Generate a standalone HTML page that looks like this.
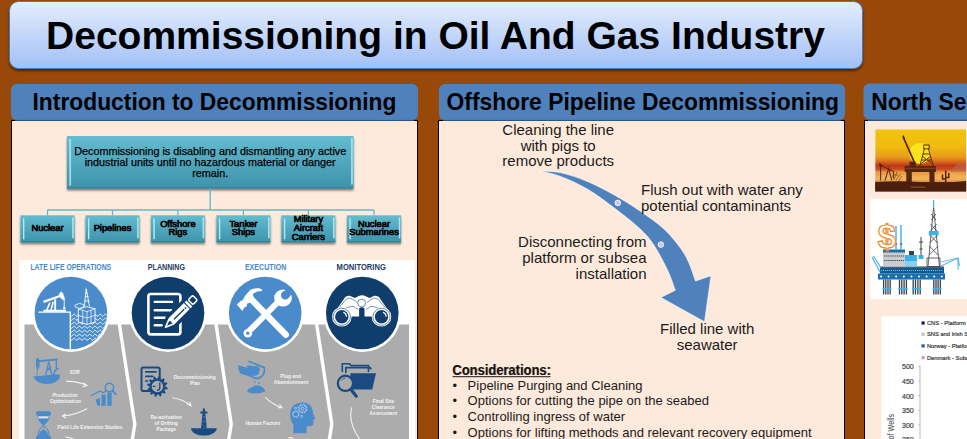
<!DOCTYPE html>
<html><head><meta charset="utf-8"><style>
html,body{margin:0;padding:0;width:967px;height:439px;overflow:hidden;background:#984807}
svg{display:block;font-family:"Liberation Sans", sans-serif}
</style></head><body>
<svg width="967" height="439" viewBox="0 0 967 439">
<defs>
<linearGradient id="gTitle" x1="0" y1="0" x2="0" y2="1"><stop offset="0" stop-color="#e4edfd"/><stop offset="1" stop-color="#a2c0f6"/></linearGradient>
<linearGradient id="gTeal" x1="0" y1="0" x2="0" y2="1"><stop offset="0" stop-color="#64bcd1"/><stop offset="1" stop-color="#3d93aa"/></linearGradient>
<linearGradient id="gBevel" x1="0" y1="0" x2="1" y2="0"><stop offset="0" stop-color="#c8f4fb"/><stop offset="1" stop-color="#7fd3e3"/></linearGradient>
<linearGradient id="gSun" x1="0" y1="0" x2="0" y2="1"><stop offset="0" stop-color="#f4c60a"/><stop offset="0.45" stop-color="#eea51a"/><stop offset="0.62" stop-color="#dc6a1e"/><stop offset="0.72" stop-color="#b8341a"/><stop offset="0.8" stop-color="#e0a050"/><stop offset="1" stop-color="#e0a050"/></linearGradient>
<filter id="sh" x="-5%" y="-20%" width="110%" height="150%"><feGaussianBlur in="SourceAlpha" stdDeviation="1.2"/><feOffset dy="1.5"/><feComponentTransfer><feFuncA type="linear" slope="0.5"/></feComponentTransfer><feMerge><feMergeNode/><feMergeNode in="SourceGraphic"/></feMerge></filter>
</defs>
<rect x="0" y="0" width="967" height="439" fill="#984807"/>
<rect x="9.5" y="1.5" width="853" height="67" rx="9" fill="url(#gTitle)" stroke="#4d7cba" stroke-width="1" filter="url(#sh)"/>
<text x="435.5" y="49" font-size="39" font-weight="bold" text-anchor="middle" fill="#000" textLength="779" lengthAdjust="spacingAndGlyphs" >Decommissioning in Oil And Gas Industry</text>
<rect x="11.5" y="120.5" width="406.0" height="400" fill="#fdeadc" stroke="#000" stroke-width="1"/>
<rect x="438.5" y="120.5" width="406.0" height="400" fill="#fdeadc" stroke="#000" stroke-width="1"/>
<rect x="864.5" y="120.5" width="235.5" height="400" fill="#fdeadc" stroke="#000" stroke-width="1"/>
<rect x="11" y="84" width="407" height="36" rx="6" fill="#4f81bd"/>
<rect x="439" y="84" width="406" height="36" rx="6" fill="#4f81bd"/>
<rect x="863.5" y="83.5" width="200" height="36" rx="6" fill="#4f81bd"/>
<rect x="15" y="119.9" width="399" height="1" fill="#30609c"/>
<rect x="443" y="119.9" width="398" height="1" fill="#30609c"/>
<rect x="868" y="119.9" width="99" height="1" fill="#30609c"/>
<text x="214.5" y="109.8" font-size="23.8" font-weight="bold" text-anchor="middle" fill="#000" textLength="364" lengthAdjust="spacingAndGlyphs" >Introduction to Decommissioning</text>
<text x="642.75" y="109.8" font-size="23.8" font-weight="bold" text-anchor="middle" fill="#000" textLength="392.3" lengthAdjust="spacingAndGlyphs" >Offshore Pipeline Decommissioning</text>
<text x="871.3" y="109.8" font-size="23.8" font-weight="bold" text-anchor="start" fill="#000" textLength="310.7" lengthAdjust="spacingAndGlyphs" >North Sea Decommissioning</text>
<rect x="67" y="136" width="286.5" height="52.5" fill="url(#gTeal)" filter="url(#sh)"/>
<rect x="69.5" y="139" width="1.6" height="46.5" fill="url(#gBevel)"/>
<rect x="351.3" y="138" width="1.6" height="46.5" fill="url(#gBevel)"/>
<rect x="67" y="187.5" width="286.5" height="1" fill="#2f7d92"/>
<text x="210.2" y="154.5" font-size="10.8" text-anchor="middle" fill="#000" textLength="272" lengthAdjust="spacingAndGlyphs" stroke="#000" stroke-width="0.25">Decommissioning is disabling and dismantling any active</text>
<text x="210.2" y="165.5" font-size="10.8" text-anchor="middle" fill="#000" textLength="251" lengthAdjust="spacingAndGlyphs" stroke="#000" stroke-width="0.25">industrial units until no hazardous material or danger</text>
<text x="210.2" y="176.5" font-size="10.8" text-anchor="middle" fill="#000" stroke="#000" stroke-width="0.25">remain.</text>
<g stroke="#5fb8cc" stroke-width="1.3" fill="none">
<path d="M210.2 188.5 V210"/>
<path d="M47.3 210 H374"/>
<path d="M47.5 210 V215.3"/>
<path d="M112.5 210 V215.3"/>
<path d="M177.9 210 V215.3"/>
<path d="M243.4 210 V215.3"/>
<path d="M308.4 210 V215.3"/>
<path d="M374 210 V215.3"/>
</g>
<rect x="20.5" y="215.3" width="54" height="27" fill="url(#gTeal)" filter="url(#sh)"/>
<rect x="23.0" y="218.3" width="1.6" height="21" fill="url(#gBevel)"/>
<rect x="72.3" y="217.3" width="1.6" height="21" fill="url(#gBevel)"/>
<rect x="20.5" y="241.3" width="54" height="1" fill="#2f7d92"/>
<text x="47.5" y="230.9" font-size="9.3" text-anchor="middle" fill="#000" stroke="#000" stroke-width="0.7">Nuclear</text>
<rect x="85.5" y="215.3" width="54" height="27" fill="url(#gTeal)" filter="url(#sh)"/>
<rect x="88.0" y="218.3" width="1.6" height="21" fill="url(#gBevel)"/>
<rect x="137.3" y="217.3" width="1.6" height="21" fill="url(#gBevel)"/>
<rect x="85.5" y="241.3" width="54" height="1" fill="#2f7d92"/>
<text x="112.5" y="230.9" font-size="9.3" text-anchor="middle" fill="#000" stroke="#000" stroke-width="0.7">Pipelines</text>
<rect x="150.9" y="215.3" width="54" height="27" fill="url(#gTeal)" filter="url(#sh)"/>
<rect x="153.4" y="218.3" width="1.6" height="21" fill="url(#gBevel)"/>
<rect x="202.70000000000002" y="217.3" width="1.6" height="21" fill="url(#gBevel)"/>
<rect x="150.9" y="241.3" width="54" height="1" fill="#2f7d92"/>
<text x="177.9" y="226.5" font-size="9.3" text-anchor="middle" fill="#000" stroke="#000" stroke-width="0.7">Offshore</text>
<text x="177.9" y="235.3" font-size="9.3" text-anchor="middle" fill="#000" stroke="#000" stroke-width="0.7">Rigs</text>
<rect x="216.4" y="215.3" width="54" height="27" fill="url(#gTeal)" filter="url(#sh)"/>
<rect x="218.9" y="218.3" width="1.6" height="21" fill="url(#gBevel)"/>
<rect x="268.2" y="217.3" width="1.6" height="21" fill="url(#gBevel)"/>
<rect x="216.4" y="241.3" width="54" height="1" fill="#2f7d92"/>
<text x="243.4" y="226.5" font-size="9.3" text-anchor="middle" fill="#000" stroke="#000" stroke-width="0.7">Tanker</text>
<text x="243.4" y="235.3" font-size="9.3" text-anchor="middle" fill="#000" stroke="#000" stroke-width="0.7">Ships</text>
<rect x="281.4" y="215.3" width="54" height="27" fill="url(#gTeal)" filter="url(#sh)"/>
<rect x="283.9" y="218.3" width="1.6" height="21" fill="url(#gBevel)"/>
<rect x="333.2" y="217.3" width="1.6" height="21" fill="url(#gBevel)"/>
<rect x="281.4" y="241.3" width="54" height="1" fill="#2f7d92"/>
<text x="308.4" y="222.1" font-size="9.3" text-anchor="middle" fill="#000" stroke="#000" stroke-width="0.7">Military</text>
<text x="308.4" y="230.9" font-size="9.3" text-anchor="middle" fill="#000" stroke="#000" stroke-width="0.7">Aircraft</text>
<text x="308.4" y="239.7" font-size="9.3" text-anchor="middle" fill="#000" stroke="#000" stroke-width="0.7">Carriers</text>
<rect x="347" y="215.3" width="54" height="27" fill="url(#gTeal)" filter="url(#sh)"/>
<rect x="349.5" y="218.3" width="1.6" height="21" fill="url(#gBevel)"/>
<rect x="398.8" y="217.3" width="1.6" height="21" fill="url(#gBevel)"/>
<rect x="347" y="241.3" width="54" height="1" fill="#2f7d92"/>
<text x="374" y="226.5" font-size="9.3" text-anchor="middle" fill="#000" stroke="#000" stroke-width="0.7">Nuclear</text>
<text x="374" y="235.3" font-size="9.3" text-anchor="middle" fill="#000" stroke="#000" stroke-width="0.7">Submarines</text>
<rect x="19" y="260" width="396" height="180" fill="#ffffff"/>
<rect x="24.5" y="324.5" width="384.5" height="120" fill="#adacad"/>
<path d="M119.0 322 L134.8 424 L126.80000000000001 475" stroke="#ffffff" stroke-width="3.4" fill="none"/>
<path d="M215.7 322 L231.2 424 L223.2 475" stroke="#ffffff" stroke-width="3.4" fill="none"/>
<path d="M316.3 322 L331.8 424 L323.8 475" stroke="#ffffff" stroke-width="3.4" fill="none"/>
<circle cx="70.9" cy="313" r="39" fill="#ffffff"/>
<circle cx="70.9" cy="313" r="36.3" fill="#4a8bcb"/>
<circle cx="168" cy="313" r="39" fill="#ffffff"/>
<circle cx="168" cy="313" r="36.3" fill="#0f3e6d"/>
<circle cx="265.2" cy="313" r="39" fill="#ffffff"/>
<circle cx="265.2" cy="313" r="36.3" fill="#4a8bcb"/>
<circle cx="362.3" cy="313" r="39" fill="#ffffff"/>
<circle cx="362.3" cy="313" r="36.3" fill="#0f3e6d"/>
<clipPath id="c1"><circle cx="70.9" cy="313" r="36.3"/></clipPath>
<text x="70.8" y="270.4" font-size="8.4" font-weight="bold" text-anchor="middle" fill="#4a86c8" textLength="80.7" lengthAdjust="spacingAndGlyphs" >LATE LIFE OPERATIONS</text>
<text x="166.4" y="270.4" font-size="8.4" font-weight="bold" text-anchor="middle" fill="#1f3b63" textLength="37.2" lengthAdjust="spacingAndGlyphs" >PLANNING</text>
<text x="265.6" y="270.4" font-size="8.4" font-weight="bold" text-anchor="middle" fill="#4a86c8" textLength="41.4" lengthAdjust="spacingAndGlyphs" >EXECUTION</text>
<text x="361.2" y="270.4" font-size="8.4" font-weight="bold" text-anchor="middle" fill="#1f3b63" textLength="49.2" lengthAdjust="spacingAndGlyphs" >MONITORING</text>
<g clip-path="url(#c1)" stroke="#ffffff" fill="none" stroke-linecap="round"><path d="M39 312.2 H70.3 V352" stroke-width="1.3"/><path d="M44.3 301.6 L59.3 296.2" stroke-width="2.2"/><path d="M59 295.6 L60 292.6 Q61.5 291.3 62.6 293 L64.6 298.5 L64.2 300.2 L61.8 299 Z" fill="#ffffff" stroke-width="0.5"/><path d="M64.2 300 V308" stroke-width="0.9"/><rect x="63.2" y="307.2" width="2.2" height="2.2" fill="#ffffff" stroke="none"/><path d="M46.6 310.4 L49.9 302.6 M51 310 L53.3 301.8" stroke-width="1.5" stroke-linecap="butt"/><rect x="54.2" y="299.4" width="1.9" height="11" fill="#ffffff" stroke="none"/><rect x="43.5" y="309.8" width="22.5" height="2" fill="#ffffff" stroke="none"/><path d="M86.2 289 L84.4 306 M86.2 289 L89.4 306 M84.9 301 H88.9 M85.4 296.5 H88.2 M85.8 293 H87.2" stroke-width="0.9"/><path d="M70.3 315.20 L71.0 316.02 L71.7 316.29 L72.4 315.82 L73.1 314.94 L73.8 314.23 L74.5 314.17 L75.2 314.81 L75.9 315.71 L76.6 316.27 L77.3 316.11 L78.0 315.33 L78.7 314.47 L79.4 314.10 L80.1 314.47 L80.8 315.33 L81.5 316.11 L82.2 316.27 L82.9 315.71 L83.6 314.81 L84.3 314.17 L85.0 314.23 L85.7 314.94 L86.4 315.82 L87.1 316.29 L87.8 316.02 L88.5 315.20 L89.2 314.38 L89.9 314.11 L90.6 314.58 L91.3 315.46 L92.0 316.17 L92.7 316.23 L93.4 315.59 L94.1 314.69 L94.8 314.13 L95.5 314.29 L96.2 315.07 L96.9 315.93 L97.6 316.30 L98.3 315.93 L99.0 315.07 L99.7 314.29 L100.4 314.13 L101.1 314.69 L101.8 315.59 L102.5 316.23 L103.2 316.17 L103.9 315.46 L104.6 314.58 L105.3 314.11 L106.0 314.38 L106.7 315.20" stroke-width="0.9"/><path d="M70.3 319.20 L71.0 320.02 L71.7 320.29 L72.4 319.82 L73.1 318.94 L73.8 318.23 L74.5 318.17 L75.2 318.81 L75.9 319.71 L76.6 320.27 L77.3 320.11 L78.0 319.33 L78.7 318.47 L79.4 318.10 L80.1 318.47 L80.8 319.33 L81.5 320.11 L82.2 320.27 L82.9 319.71 L83.6 318.81 L84.3 318.17 L85.0 318.23 L85.7 318.94 L86.4 319.82 L87.1 320.29 L87.8 320.02 L88.5 319.20 L89.2 318.38 L89.9 318.11 L90.6 318.58 L91.3 319.46 L92.0 320.17 L92.7 320.23 L93.4 319.59 L94.1 318.69 L94.8 318.13 L95.5 318.29 L96.2 319.07 L96.9 319.93 L97.6 320.30 L98.3 319.93 L99.0 319.07 L99.7 318.29 L100.4 318.13 L101.1 318.69 L101.8 319.59 L102.5 320.23 L103.2 320.17 L103.9 319.46 L104.6 318.58 L105.3 318.11 L106.0 318.38 L106.7 319.20" stroke-width="0.9"/><path d="M70.3 323.20 L71.0 324.02 L71.7 324.29 L72.4 323.82 L73.1 322.94 L73.8 322.23 L74.5 322.17 L75.2 322.81 L75.9 323.71 L76.6 324.27 L77.3 324.11 L78.0 323.33 L78.7 322.47 L79.4 322.10 L80.1 322.47 L80.8 323.33 L81.5 324.11 L82.2 324.27 L82.9 323.71 L83.6 322.81 L84.3 322.17 L85.0 322.23 L85.7 322.94 L86.4 323.82 L87.1 324.29 L87.8 324.02 L88.5 323.20 L89.2 322.38 L89.9 322.11 L90.6 322.58 L91.3 323.46 L92.0 324.17 L92.7 324.23 L93.4 323.59 L94.1 322.69 L94.8 322.13 L95.5 322.29 L96.2 323.07 L96.9 323.93 L97.6 324.30 L98.3 323.93 L99.0 323.07 L99.7 322.29 L100.4 322.13 L101.1 322.69 L101.8 323.59 L102.5 324.23 L103.2 324.17 L103.9 323.46 L104.6 322.58 L105.3 322.11 L106.0 322.38 L106.7 323.20" stroke-width="0.9"/><path d="M70.3 327.20 L71.0 328.02 L71.7 328.29 L72.4 327.82 L73.1 326.94 L73.8 326.23 L74.5 326.17 L75.2 326.81 L75.9 327.71 L76.6 328.27 L77.3 328.11 L78.0 327.33 L78.7 326.47 L79.4 326.10 L80.1 326.47 L80.8 327.33 L81.5 328.11 L82.2 328.27 L82.9 327.71 L83.6 326.81 L84.3 326.17 L85.0 326.23 L85.7 326.94 L86.4 327.82 L87.1 328.29 L87.8 328.02 L88.5 327.20 L89.2 326.38 L89.9 326.11 L90.6 326.58 L91.3 327.46 L92.0 328.17 L92.7 328.23 L93.4 327.59 L94.1 326.69 L94.8 326.13 L95.5 326.29 L96.2 327.07 L96.9 327.93 L97.6 328.30 L98.3 327.93 L99.0 327.07 L99.7 326.29 L100.4 326.13 L101.1 326.69 L101.8 327.59 L102.5 328.23 L103.2 328.17 L103.9 327.46 L104.6 326.58 L105.3 326.11 L106.0 326.38 L106.7 327.20" stroke-width="0.9"/><path d="M70.3 331.20 L71.0 332.02 L71.7 332.29 L72.4 331.82 L73.1 330.94 L73.8 330.23 L74.5 330.17 L75.2 330.81 L75.9 331.71 L76.6 332.27 L77.3 332.11 L78.0 331.33 L78.7 330.47 L79.4 330.10 L80.1 330.47 L80.8 331.33 L81.5 332.11 L82.2 332.27 L82.9 331.71 L83.6 330.81 L84.3 330.17 L85.0 330.23 L85.7 330.94 L86.4 331.82 L87.1 332.29 L87.8 332.02 L88.5 331.20 L89.2 330.38 L89.9 330.11 L90.6 330.58 L91.3 331.46 L92.0 332.17 L92.7 332.23 L93.4 331.59 L94.1 330.69 L94.8 330.13 L95.5 330.29 L96.2 331.07 L96.9 331.93 L97.6 332.30 L98.3 331.93 L99.0 331.07 L99.7 330.29 L100.4 330.13 L101.1 330.69 L101.8 331.59 L102.5 332.23 L103.2 332.17 L103.9 331.46 L104.6 330.58 L105.3 330.11 L106.0 330.38 L106.7 331.20" stroke-width="0.9"/><path d="M70.3 335.20 L71.0 336.02 L71.7 336.29 L72.4 335.82 L73.1 334.94 L73.8 334.23 L74.5 334.17 L75.2 334.81 L75.9 335.71 L76.6 336.27 L77.3 336.11 L78.0 335.33 L78.7 334.47 L79.4 334.10 L80.1 334.47 L80.8 335.33 L81.5 336.11 L82.2 336.27 L82.9 335.71 L83.6 334.81 L84.3 334.17 L85.0 334.23 L85.7 334.94 L86.4 335.82 L87.1 336.29 L87.8 336.02 L88.5 335.20 L89.2 334.38 L89.9 334.11 L90.6 334.58 L91.3 335.46 L92.0 336.17 L92.7 336.23 L93.4 335.59 L94.1 334.69 L94.8 334.13 L95.5 334.29 L96.2 335.07 L96.9 335.93 L97.6 336.30 L98.3 335.93 L99.0 335.07 L99.7 334.29 L100.4 334.13 L101.1 334.69 L101.8 335.59 L102.5 336.23 L103.2 336.17 L103.9 335.46 L104.6 334.58 L105.3 334.11 L106.0 334.38 L106.7 335.20" stroke-width="0.9"/><path d="M70.3 339.20 L71.0 340.02 L71.7 340.29 L72.4 339.82 L73.1 338.94 L73.8 338.23 L74.5 338.17 L75.2 338.81 L75.9 339.71 L76.6 340.27 L77.3 340.11 L78.0 339.33 L78.7 338.47 L79.4 338.10 L80.1 338.47 L80.8 339.33 L81.5 340.11 L82.2 340.27 L82.9 339.71 L83.6 338.81 L84.3 338.17 L85.0 338.23 L85.7 338.94 L86.4 339.82 L87.1 340.29 L87.8 340.02 L88.5 339.20 L89.2 338.38 L89.9 338.11 L90.6 338.58 L91.3 339.46 L92.0 340.17 L92.7 340.23 L93.4 339.59 L94.1 338.69 L94.8 338.13 L95.5 338.29 L96.2 339.07 L96.9 339.93 L97.6 340.30 L98.3 339.93 L99.0 339.07 L99.7 338.29 L100.4 338.13 L101.1 338.69 L101.8 339.59 L102.5 340.23 L103.2 340.17 L103.9 339.46 L104.6 338.58 L105.3 338.11 L106.0 338.38 L106.7 339.20" stroke-width="0.9"/><path d="M78.6 309.2 L86.6 306.6 L95 308.8 L95 322.2 L87 324.4 L78.6 322 Z" fill="#4a8bcb" stroke-width="0.9" stroke-linejoin="round"/><path d="M78.6 309.2 L87 311.6 L95 308.8 M87 311.6 V324.4 M82.8 310.4 V323.2 M91 310 V323.3 M78.6 315.5 L87 318 L95 315.4" stroke-width="0.7"/><path d="M75.4 305 L79.5 303.4 L83.6 304.6 L83.6 306.8 L79.5 308.4 L75.4 307 Z" fill="#4a8bcb" stroke-width="0.8" stroke-linejoin="round"/></g>
<g stroke="#ffffff" fill="none" stroke-linecap="round" stroke-linejoin="round"><rect x="148.4" y="294" width="32" height="40.4" rx="2.4" stroke-width="2.6"/><path d="M154.8 301.9 H172" stroke-width="2.4"/><path d="M154.8 310.3 H171" stroke-width="2.4"/><path d="M154.8 317.8 H166.5" stroke-width="2.4"/><path d="M154.8 325.2 H161.5" stroke-width="2.4"/><g transform="translate(165.2,327.6) rotate(-45)"><path d="M-1.8 0 L8.5 -6.2 H44 V6.2 H8.5 Z" fill="#0f3e6d" stroke="#0f3e6d" stroke-width="2.6"/><path d="M0.6 0 L9 -3.4 V3.4 Z" fill="#0f3e6d" stroke-width="1.6"/><rect x="9" y="-4.2" width="21.5" height="8.4" fill="#ffffff" stroke="none"/><path d="M12.5 0.4 H26" stroke="#0f3e6d" stroke-width="1.3"/><circle cx="28.3" cy="0.4" r="0.9" fill="#0f3e6d" stroke="none"/><rect x="31.6" y="-4.2" width="2.6" height="8.4" fill="#ffffff" stroke="none"/><rect x="35.8" y="-3.4" width="6.4" height="6.8" rx="1.6" fill="#0f3e6d" stroke-width="1.6"/></g></g>
<clipPath id="c3"><circle cx="265.2" cy="313" r="36.3"/></clipPath>
<g fill="#ffffff" stroke="none" clip-path="url(#c3)"><path d="M251.5 299.5 L285.8 334.8" stroke="#ffffff" stroke-width="6.4" stroke-linecap="round"/><path d="M236.8 304.5 L240.9 300.8 L242.3 300.4 L244 298 L244.6 296.6 L247.4 292.9 L250.5 289.8 Q254.6 287.9 259.4 288.3 L262.3 289.8 L261.6 290.9 Q256 290.9 252.6 294.5 L254.8 299.5 L249.1 303 L247 303.8 L246.7 306.6 L244.3 307.6 L242.3 311 Z"/><path d="M248 332.2 L279.5 300.5" stroke="#ffffff" stroke-width="6" stroke-linecap="round"/><circle cx="247.8" cy="333.2" r="4.3"/><circle cx="247.8" cy="333.2" r="1.6" fill="#4a8bcb"/><ellipse cx="283" cy="298" rx="8.9" ry="8.6"/><g transform="translate(285.3,295.3) rotate(-42)"><rect x="0" y="-3.7" width="11" height="7.4" fill="#4a8bcb"/><circle cx="0" cy="0" r="4.3" fill="#4a8bcb"/></g></g>
<g stroke="none" fill="#ffffff"><path d="M335.2 311.5 L345.3 297 Q347.8 295.5 350.4 295.9 L354.8 298 L358.4 296.2 Q362.1 294.3 365.8 296.2 L369.4 298 L373.8 295.9 Q376.4 295.5 378.9 297 L389 311.5 L384.5 316.5 H364.5 V308.6 Q361.8 306 359.1 308.6 V316.5 H339.8 Z"/><path d="M337.5 309.5 L346.5 298.8 Q349.5 297.2 353 299.4 L357.3 302.5 M386.7 309.5 L377.7 298.8 Q374.7 297.2 371.2 299.4 L366.9 302.5 M341 312 Q347 306 353.5 306.5 L358 309.5 M383.2 312 Q377.2 306 370.7 306.5 L366.2 309.5" stroke="#0f3e6d" stroke-width="0.55" fill="none"/><circle cx="361.6" cy="303" r="3.9" fill="#ffffff" stroke="#0f3e6d" stroke-width="0.6"/><circle cx="341.8" cy="316.8" r="9.8" fill="#ffffff"/><circle cx="341.8" cy="316.8" r="8.6" fill="none" stroke="#0f3e6d" stroke-width="0.6"/><circle cx="341.8" cy="316.8" r="6.7" fill="#0f3e6d"/><path d="M343.3 312.4 A4.5 4.5 0 0 1 346.40000000000003 316.8" fill="none" stroke="#ffffff" stroke-width="1.2"/><circle cx="381.5" cy="316.8" r="9.8" fill="#ffffff"/><circle cx="381.5" cy="316.8" r="8.6" fill="none" stroke="#0f3e6d" stroke-width="0.6"/><circle cx="381.5" cy="316.8" r="6.7" fill="#0f3e6d"/><path d="M383.0 312.4 A4.5 4.5 0 0 1 386.1 316.8" fill="none" stroke="#ffffff" stroke-width="1.2"/></g>
<g fill="#4a8bcb" stroke="none"><path d="M33.2 376.4 L57.8 374.2 Q60.6 373.8 59.9 377 Q57.5 383.8 47 383.9 Q36.5 383.6 33.2 376.4 Z"/><path d="M36.1 358.8 Q37.5 357.3 38.9 358.8 L39.7 366 Q38.6 369.6 37.3 369.4 L36 366 Z"/><path d="M37.1 369 V376" stroke="#4a8bcb" stroke-width="0.8"/><path d="M38.6 361.3 L57.8 359.4" stroke="#4a8bcb" stroke-width="1.9"/><path d="M45.6 375.5 L48.7 361.3 L52 375.5 M46.5 371 L51 366.5 M46.8 366.8 L51.3 371.5" stroke="#4a8bcb" stroke-width="1.2" fill="none"/><path d="M56.3 360 V369" stroke="#4a8bcb" stroke-width="1.3"/><path d="M53.6 375 Q54.3 369.2 58.8 368.2" stroke="#4a8bcb" stroke-width="1.6" fill="none"/></g>
<g fill="#4a8bcb" stroke="none"><path d="M95.5 399.5 L100 398 V405.8 H97.5 Z"/><rect x="101.5" y="394.6" width="4.2" height="11.2"/><rect x="107.3" y="392.4" width="4.4" height="13.4"/><path d="M91 395.8 L99.5 391.2 L103.5 392.8 L106 390.5" stroke="#4a8bcb" stroke-width="1.3" fill="none" stroke-linecap="round"/><circle cx="109.4" cy="387.5" r="4.2" fill="#adacad" stroke="#4a8bcb" stroke-width="1.4"/><path d="M112.4 390.6 L115.6 394" stroke="#4a8bcb" stroke-width="2" stroke-linecap="round"/></g>
<g fill="#4a8bcb"><rect x="36" y="411.3" width="15" height="4.3" rx="1.6"/><path d="M37.6 415 H49.4 Q49.6 421.5 43.5 425.6 Q37.4 421.5 37.6 415 Z"/><path d="M38.3 416.2 H48.7 Q48.6 417.6 48.2 418.6 H38.8 Q38.4 417.6 38.3 416.2 Z" fill="#dedede"/><path d="M43.5 425.4 Q37.6 429.5 37.8 436.5 H49.2 Q49.4 429.5 43.5 425.4 Z" fill="#adacad" stroke="#4a8bcb" stroke-width="1"/><path d="M38.4 436.5 Q39.5 430 43.5 429.8 Q47.5 430 48.6 436.5 Z"/><path d="M43.5 425 V430" stroke="#4a8bcb" stroke-width="0.6"/><rect x="36" y="435.8" width="15" height="5" rx="1.6"/></g>
<g fill="none" stroke="#1a4a80"><rect x="141.5" y="367.4" width="18.2" height="23.6" rx="1.8" stroke-width="2"/><path d="M145.8 371.8 H156 M145.8 376.4 H152.6 M145.8 381 H147.6" stroke-width="1.7" stroke-linecap="round"/></g>
<path d="M165.40 386.50 L167.71 387.86 L167.45 389.19 L164.79 389.56 L164.33 390.50 L165.65 392.83 L164.75 393.85 L162.27 392.85 L161.40 393.43 L161.38 396.11 L160.09 396.55 L158.44 394.43 L157.40 394.50 L156.04 396.81 L154.71 396.55 L154.34 393.89 L153.40 393.43 L151.07 394.75 L150.05 393.85 L151.05 391.37 L150.47 390.50 L147.79 390.48 L147.35 389.19 L149.47 387.54 L149.40 386.50 L147.09 385.14 L147.35 383.81 L150.01 383.44 L150.47 382.50 L149.15 380.17 L150.05 379.15 L152.53 380.15 L153.40 379.57 L153.42 376.89 L154.71 376.45 L156.36 378.57 L157.40 378.50 L158.76 376.19 L160.09 376.45 L160.46 379.11 L161.40 379.57 L163.73 378.25 L164.75 379.15 L163.75 381.63 L164.33 382.50 L167.01 382.52 L167.45 383.81 L165.33 385.46 Z" fill="#1a4a80"/>
<circle cx="157.4" cy="386.5" r="5.7" fill="#adacad"/>
<path d="M152.8 386.4 H155.4 M159.8 382.6 V388 Q159.6 390.2 157 390.2" stroke="#1a4a80" stroke-width="1.4" fill="none"/>
<g fill="#1a4a80"><path d="M191 428.2 H216.8 A12.9 7.4 0 0 1 191 428.2 Z"/><path d="M202.5 413.3 L201 428.6 H206.8 L205.3 413.3 Z"/><rect x="200.3" y="411.6" width="7.2" height="1.9" rx="0.5"/><path d="M203.9 407.6 L202.6 410 V411.8 H205.2 V410 Z"/><path d="M202.8 416 L205 418.5 M205 416 L202.8 418.5 M202.5 420 L205.3 423 M205.3 420 L202.5 423 M202.2 424.5 L205.6 427.5" stroke="#6f8db5" stroke-width="0.5" fill="none"/></g>
<g fill="#4a8bcb"><path d="M237.9 365.2 L249.6 368.3 L251.8 377.2 L240.2 373.6 Q238.2 370 237.9 365.2 Z"/><path d="M248.3 361.2 L264.4 367.6 Q265.2 376 258.3 378.4 Q251.8 378.8 249.4 372.5" fill="none" stroke="#4a8bcb" stroke-width="1.7"/><path d="M246.4 366 Q250 364.6 253.6 366.4 Q257.6 365.3 259.7 368.6 Q260.2 372.6 257.6 375.1 Q253.2 377.2 250.6 374 Q249.6 370 246.4 366 Z"/><circle cx="254.7" cy="381.8" r="0.9"/><circle cx="259" cy="383" r="0.9"/><path d="M247.2 391.4 Q248 388 252 387.4 Q254.6 384.4 258.6 385.4 Q264 387 265.3 391 Q262 393.4 256 393.4 Q249 393.2 247.2 391.4 Z"/></g>
<path d="M293.4 433.2 V425 Q289.5 419.5 290.4 411.5 Q292.5 402.8 302.3 402.6 Q311.5 402.8 312.8 410.8 L313.3 414 L315.4 418.4 L313.4 419.4 V423 Q313.2 426.3 309.6 426.3 H306.6 V433.2 Z" fill="#4a8bcb"/>
<path d="M306.10 408.60 L306.92 409.46 L306.67 410.28 L305.51 410.54 L305.07 411.07 L305.04 412.26 L304.28 412.67 L303.28 412.03 L302.60 412.10 L301.74 412.92 L300.92 412.67 L300.66 411.51 L300.13 411.07 L298.94 411.04 L298.53 410.28 L299.17 409.28 L299.10 408.60 L298.28 407.74 L298.53 406.92 L299.69 406.66 L300.13 406.13 L300.16 404.94 L300.92 404.53 L301.92 405.17 L302.60 405.10 L303.46 404.28 L304.28 404.53 L304.54 405.69 L305.07 406.13 L306.26 406.16 L306.67 406.92 L306.03 407.92 Z" fill="none" stroke="#d2e0f0" stroke-width="0.8"/>
<circle cx="302.6" cy="408.6" r="1.5" fill="none" stroke="#d2e0f0" stroke-width="0.7"/>
<path d="M298.40 414.20 L299.02 414.93 L298.77 415.63 L297.83 415.82 L297.42 416.23 L297.23 417.17 L296.53 417.42 L295.80 416.80 L295.22 416.73 L294.37 417.17 L293.74 416.78 L293.77 415.82 L293.46 415.33 L292.58 414.93 L292.50 414.20 L293.27 413.62 L293.46 413.07 L293.22 412.14 L293.74 411.62 L294.67 411.86 L295.22 411.67 L295.80 410.90 L296.53 410.98 L296.93 411.86 L297.42 412.17 L298.38 412.14 L298.77 412.77 L298.33 413.62 Z" fill="none" stroke="#d2e0f0" stroke-width="0.8"/>
<circle cx="295.6" cy="408.2" r="1.1" fill="none" stroke="#d2e0f0" stroke-width="0.6"/>
<circle cx="301.6" cy="416.4" r="1.1" fill="none" stroke="#d2e0f0" stroke-width="0.6"/>
<g fill="none" stroke="#1a4a80" stroke-width="1.6"><path d="M342.3 372 V363.8 H349.4 L351 365.6 H368.5 V372"/><path d="M345.8 373 V367.6 H370 L371.3 369.3"/></g>
<path d="M350.5 373.2 H376 L372.2 389.6 H349.4 Z" fill="#1a4a80"/>
<circle cx="345.4" cy="383.3" r="7.6" fill="#adacad" stroke="#1a4a80" stroke-width="2.2"/>
<path d="M351 389.6 L356.3 396.3" stroke="#1a4a80" stroke-width="3.2" stroke-linecap="round"/>
<path d="M341.5 380.5 Q343 378.3 345.5 378" stroke="#1a4a80" stroke-width="0.8" fill="none"/>
<g stroke="#f2f2f2" stroke-width="1.1" fill="none" stroke-linecap="round"><path d="M66.6 381.4 Q77 381 86 385"/><path d="M83.6 383 L86.9 385.5 L83 386.6"/><path d="M86.9 408.8 Q76 415 63.2 416"/><path d="M65.6 414 L62.5 416 L65.6 417.8"/><path d="M65.6 437 Q71 437.5 75 440"/><path d="M172.7 397.7 Q183 399.5 190.3 405"/><path d="M187.6 404.2 L191 405.8 L189.8 402.3"/><path d="M265.6 397.7 Q272 404 281 407.5"/><path d="M278.2 407.8 L281.9 407.8 L279.8 404.8"/><path d="M288.5 437.8 Q291 437.2 293 438.5"/><path d="M351.6 407.8 Q348 423 359.6 439"/></g>
<text x="75" y="374" font-size="5.6" font-weight="bold" text-anchor="middle" fill="#f4f4f4" textLength="9.6" lengthAdjust="spacingAndGlyphs" >EOR</text>
<text x="65.1" y="396.6" font-size="5.6" font-weight="bold" text-anchor="middle" fill="#f4f4f4" textLength="25.4" lengthAdjust="spacingAndGlyphs" >Production</text>
<text x="65.4" y="402.7" font-size="5.6" font-weight="bold" text-anchor="middle" fill="#f4f4f4" textLength="30.8" lengthAdjust="spacingAndGlyphs" >Optimisation</text>
<text x="90" y="428.6" font-size="5.6" font-weight="bold" text-anchor="middle" fill="#f4f4f4" textLength="64.9" lengthAdjust="spacingAndGlyphs" >Field Life Extension Studies</text>
<text x="194.8" y="379" font-size="5.6" font-weight="bold" text-anchor="middle" fill="#f4f4f4" textLength="42" lengthAdjust="spacingAndGlyphs" >Decommissioning</text>
<text x="195" y="385.1" font-size="5.6" font-weight="bold" text-anchor="middle" fill="#f4f4f4" textLength="10" lengthAdjust="spacingAndGlyphs" >Plan</text>
<text x="166.2" y="418.5" font-size="5.6" font-weight="bold" text-anchor="middle" fill="#f4f4f4" textLength="31.5" lengthAdjust="spacingAndGlyphs" >Re-activation</text>
<text x="166.2" y="424.6" font-size="5.6" font-weight="bold" text-anchor="middle" fill="#f4f4f4" textLength="23.3" lengthAdjust="spacingAndGlyphs" >of Drilling</text>
<text x="166.2" y="430.7" font-size="5.6" font-weight="bold" text-anchor="middle" fill="#f4f4f4" textLength="19.3" lengthAdjust="spacingAndGlyphs" >Package</text>
<text x="290.7" y="377.8" font-size="5.6" font-weight="bold" text-anchor="middle" fill="#f4f4f4" textLength="20.7" lengthAdjust="spacingAndGlyphs" >Plug and</text>
<text x="291" y="383.8" font-size="5.6" font-weight="bold" text-anchor="middle" fill="#f4f4f4" textLength="34.4" lengthAdjust="spacingAndGlyphs" >Abandonment</text>
<text x="262.9" y="425.4" font-size="5.6" font-weight="bold" text-anchor="middle" fill="#f4f4f4" textLength="35" lengthAdjust="spacingAndGlyphs" >Human Factors</text>
<text x="383.4" y="402.7" font-size="5.6" font-weight="bold" text-anchor="middle" fill="#f4f4f4" textLength="21.3" lengthAdjust="spacingAndGlyphs" >Final Site</text>
<text x="383.2" y="408.8" font-size="5.6" font-weight="bold" text-anchor="middle" fill="#f4f4f4" textLength="22.7" lengthAdjust="spacingAndGlyphs" >Clearance</text>
<text x="383.3" y="414.9" font-size="5.6" font-weight="bold" text-anchor="middle" fill="#f4f4f4" textLength="27.8" lengthAdjust="spacingAndGlyphs" >Assessment</text>
<path d="M539.5 171 C542.9 171.3 552.0 170.9 560.0 172.6 C568.0 174.3 578.2 177.6 587.3 181.4 C596.4 185.2 605.9 190.3 614.7 195.2 C623.5 200.1 631.6 205.2 640.0 211.0 C648.4 216.8 657.5 222.7 665.0 230.0 C672.5 237.3 679.9 246.5 685.0 255.0 C690.1 263.5 693.8 276.7 695.5 281.0 L711 275.7 L704.5 321.8 L660.8 297.4 L675.3 290.3 C674.0 286.9 671.2 277.8 667.6 270.2 C664.0 262.6 658.4 251.9 653.8 245.0 C649.2 238.1 646.5 234.9 640.0 228.8 C633.5 222.7 623.5 214.9 614.7 208.3 C605.9 201.7 596.4 194.4 587.3 189.1 C578.2 183.8 568.0 179.2 560.0 176.2 C552.0 173.2 542.9 171.9 539.5 171.0 Z" fill="#4f81bd" stroke="#ffffff" stroke-width="0.6" stroke-linejoin="round"/>
<circle cx="617.8" cy="202.9" r="2.8" fill="#c5cde6" stroke="#ffffff" stroke-width="0.8"/>
<circle cx="660.9" cy="244.6" r="2.8" fill="#c5cde6" stroke="#ffffff" stroke-width="0.8"/>
<text x="558.2" y="134.6" font-size="15" text-anchor="middle" fill="#1a1a1a" >Cleaning the line</text>
<text x="558.2" y="150.5" font-size="15" text-anchor="middle" fill="#1a1a1a" >with pigs to</text>
<text x="558.2" y="166.4" font-size="15" text-anchor="middle" fill="#1a1a1a" >remove products</text>
<text x="641" y="194.8" font-size="15" text-anchor="start" fill="#1a1a1a" >Flush out with water any</text>
<text x="641" y="211.0" font-size="15" text-anchor="start" fill="#1a1a1a" >potential contaminants</text>
<text x="646.5" y="247.2" font-size="15" text-anchor="end" fill="#1a1a1a" >Disconnecting from</text>
<text x="646.5" y="263.0" font-size="15" text-anchor="end" fill="#1a1a1a" >platform or subsea</text>
<text x="646.5" y="278.8" font-size="15" text-anchor="end" fill="#1a1a1a" >installation</text>
<text x="707.2" y="333.7" font-size="15" text-anchor="middle" fill="#1a1a1a" >Filled line with</text>
<text x="707.2" y="349.59999999999997" font-size="15" text-anchor="middle" fill="#1a1a1a" >seawater</text>
<text x="452.3" y="374.5" font-size="14" font-weight="bold" text-anchor="start" fill="#8a8a8a" textLength="98.5" lengthAdjust="spacingAndGlyphs" transform="translate(0.9,0.9)" opacity="0.8">Considerations:</text>
<text x="452.3" y="374.5" font-size="14" font-weight="bold" text-anchor="start" fill="#141414" textLength="98.5" lengthAdjust="spacingAndGlyphs" >Considerations:</text>
<rect x="452.5" y="376.2" width="98" height="1" fill="#1a1a1a"/>
<text x="452.5" y="389.8" font-size="13" text-anchor="start" fill="#1a1a1a" >&#8226;</text>
<text x="467.6" y="389.8" font-size="13" text-anchor="start" fill="#1a1a1a" >Pipeline Purging and Cleaning</text>
<text x="452.5" y="405.40000000000003" font-size="13" text-anchor="start" fill="#1a1a1a" >&#8226;</text>
<text x="467.6" y="405.40000000000003" font-size="13" text-anchor="start" fill="#1a1a1a" >Options for cutting the pipe on the seabed</text>
<text x="452.5" y="421.0" font-size="13" text-anchor="start" fill="#1a1a1a" >&#8226;</text>
<text x="467.6" y="421.0" font-size="13" text-anchor="start" fill="#1a1a1a" >Controlling ingress of water</text>
<text x="452.5" y="436.6" font-size="13" text-anchor="start" fill="#1a1a1a" >&#8226;</text>
<text x="467.6" y="436.6" font-size="13" text-anchor="start" fill="#1a1a1a" >Options for lifting methods and relevant recovery equipment</text>
<clipPath id="cimg1"><rect x="875.2" y="129.3" width="91" height="62.3"/></clipPath>
<linearGradient id="gSky" x1="0" y1="0" x2="0" y2="1"><stop offset="0" stop-color="#f2c30c"/><stop offset="0.28" stop-color="#f0bc10"/><stop offset="0.45" stop-color="#e89a1c"/><stop offset="0.525" stop-color="#d8661c"/><stop offset="0.58" stop-color="#c0381a"/><stop offset="0.64" stop-color="#c84a20"/><stop offset="0.69" stop-color="#ec9c40"/><stop offset="0.8" stop-color="#f0aa52"/><stop offset="0.84" stop-color="#c06a30"/><stop offset="0.86" stop-color="#4a1e0e"/><stop offset="1" stop-color="#4a1e0e"/></linearGradient>
<g clip-path="url(#cimg1)"><rect x="875.2" y="129.3" width="91" height="62.3" fill="url(#gSky)"/><circle cx="919.8" cy="153.5" r="10.5" fill="#fde31c"/><path d="M875 176 Q890 173 905 175 T935 174 T967 176 V182 H875 Z" fill="#f4b860" opacity="0.5"/><path d="M955 166 Q960 160 967 163 V172 H950 Z" fill="#c06a4a" opacity="0.6"/><rect x="904.7" y="166" width="31.2" height="6" fill="#55260f"/><path d="M905.5 168.3 H935" stroke="#b05a2a" stroke-width="0.6"/><rect x="906.3" y="172" width="5.5" height="10.5" fill="#55260f"/><rect x="929.4" y="172" width="5.1" height="10.5" fill="#55260f"/><rect x="909.5" y="161.7" width="6.3" height="4.4" fill="#55260f"/><path d="M903 136.5 L914.2 162" stroke="#55260f" stroke-width="1.8"/><path d="M903.2 135.5 L904.5 139.5" stroke="#55260f" stroke-width="1.2"/><path d="M924.5 148.5 L919.8 166 M928.3 148.5 L933.4 166 M921.5 160 H932 M923 154 H930 M920.5 164 L931 156 M932.5 164 L922 156" stroke="#55260f" stroke-width="0.9" fill="none"/><rect x="923.8" y="145" width="5.4" height="3.9" fill="none" stroke="#55260f" stroke-width="0.9"/><path d="M880.6 165.2 L893.6 171.6 M885 180.5 L888.6 168.6 L891.8 180.5 M880.6 167 V180.5 M893.5 171.5 V178.5" stroke="#55260f" stroke-width="1.1" fill="none" opacity="0.9"/><path d="M878.8 163.4 Q881.8 162.8 882.2 166.6 L880 167.2 Z" fill="#55260f"/><path d="M891.5 177 Q895 173 898 176 M894 180 L897 172 M896 180 L900.5 174 M898.5 181 L902 176" stroke="#55260f" stroke-width="0.7" fill="none" opacity="0.8"/><path d="M945.7 184 V171 M942.5 175 V179 H945.7 M948.8 173.5 V177.5 H945.7" stroke="#55260f" stroke-width="1.5" fill="none" stroke-linecap="round"/><path d="M875 182 Q900 180.5 920 182 T967 181 V192 H875 Z" fill="#4a1f0e"/><rect x="911" y="186.5" width="14" height="1.2" fill="#a8603a" opacity="0.7"/></g>
<rect x="870.5" y="198.8" width="97" height="100.4" fill="#ffffff"/>
<path d="M883.6 279.5 V294.5" stroke="#3a4048" stroke-width="1.3"/><path d="M885.8 279.5 V294.5" stroke="#3a4048" stroke-width="1.3"/><path d="M888.0 279.5 V294.5" stroke="#3a4048" stroke-width="1.3"/><path d="M890.2 279.5 V294.5" stroke="#3a4048" stroke-width="1.3"/><rect x="882.5" y="288" width="8.799999999999955" height="1.6" fill="#3db0e8"/><path d="M899.5 279.5 V294.5" stroke="#3a4048" stroke-width="1.3"/><path d="M901.8 279.5 V294.5" stroke="#3a4048" stroke-width="1.3"/><path d="M904.1 279.5 V294.5" stroke="#3a4048" stroke-width="1.3"/><path d="M906.4 279.5 V294.5" stroke="#3a4048" stroke-width="1.3"/><rect x="898.3" y="288" width="9.300000000000068" height="1.6" fill="#3db0e8"/><path d="M913.2 279.5 V294.5" stroke="#3a4048" stroke-width="1.3"/><path d="M915.5 279.5 V294.5" stroke="#3a4048" stroke-width="1.3"/><path d="M917.9 279.5 V294.5" stroke="#3a4048" stroke-width="1.3"/><path d="M920.2 279.5 V294.5" stroke="#3a4048" stroke-width="1.3"/><rect x="912" y="288" width="9.399999999999977" height="1.6" fill="#3db0e8"/><path d="M933.8 279.5 V294.5" stroke="#3a4048" stroke-width="1.3"/><path d="M936.0 279.5 V294.5" stroke="#3a4048" stroke-width="1.3"/><path d="M938.1 279.5 V294.5" stroke="#3a4048" stroke-width="1.3"/><path d="M940.3 279.5 V294.5" stroke="#3a4048" stroke-width="1.3"/><rect x="932.7" y="288" width="8.699999999999932" height="1.6" fill="#3db0e8"/><rect x="878" y="273.5" width="67" height="6" fill="#1b6fae"/><circle cx="881.0" cy="276.5" r="1" fill="#ffffff"/><circle cx="888.6" cy="276.5" r="1" fill="#ffffff"/><circle cx="896.2" cy="276.5" r="1" fill="#ffffff"/><circle cx="903.8" cy="276.5" r="1" fill="#ffffff"/><circle cx="911.4" cy="276.5" r="1" fill="#ffffff"/><circle cx="919.0" cy="276.5" r="1" fill="#ffffff"/><circle cx="926.6" cy="276.5" r="1" fill="#ffffff"/><circle cx="934.2" cy="276.5" r="1" fill="#ffffff"/><circle cx="941.8" cy="276.5" r="1" fill="#ffffff"/><rect x="880" y="267.5" width="64" height="6" fill="#155a8c"/><path d="M881 270.5 H943" stroke="#5ab8e8" stroke-width="1.2" stroke-dasharray="1.2 0.8"/><rect x="880" y="266.5" width="64" height="1.2" fill="#3a4048"/><rect x="883" y="252" width="22" height="14.5" fill="#c9ccd0"/><path d="M883 252 H905 M884 256 H904 M884 260.5 H904" stroke="#3a4048" stroke-width="0.9" stroke-dasharray="1.4 0.7"/><rect x="883" y="249.5" width="22" height="2.6" fill="#1b6fae"/><rect x="905" y="255" width="12" height="11.5" fill="#3db0e8"/><rect x="905" y="261" width="12" height="5.5" fill="#8ad0f0"/><rect x="909" y="251" width="5" height="4" fill="#3a4048"/><path d="M896 226 V249.5 M901 225 V249.5" stroke="#3db0e8" stroke-width="1.4"/><path d="M894.8 244 H897.2 M899.8 244 H902.2" stroke="#3a4048" stroke-width="1.2"/><text x="887" y="247.5" font-size="33" font-weight="bold" fill="#ffffff" stroke="#f08a1e" stroke-width="1.2" text-anchor="middle">$</text><path d="M921 237 V258 M919 242 H923 M919.5 249 H922.5" stroke="#3a4048" stroke-width="1"/><rect x="918.5" y="255" width="5" height="4" fill="#3db0e8"/><path d="M933.6 207 L928 266.5 M933.6 207 L939.4 266.5 M929.2 255 L938.2 246 M938.2 255 L929.2 246 M929.7 243 L937.5 235 M937.5 243 L929.7 235 M930.5 231 L936.7 224 M936.7 231 L930.5 224 M931.3 220 L935.9 214 M935.9 220 L931.3 214" stroke="#3a4048" stroke-width="0.8" fill="none"/><path d="M933.6 200 V208" stroke="#3db0e8" stroke-width="1.2"/><rect x="928.8" y="231" width="9.8" height="4.2" fill="#3db0e8"/><rect x="927" y="258" width="13" height="8.5" fill="none" stroke="#3a4048" stroke-width="0.8"/><path d="M941 266 L958 258 L959.5 266 M958 258 V270" stroke="#3db0e8" stroke-width="1" fill="none"/><path d="M941 262 L958 258" stroke="#3db0e8" stroke-width="0.8"/><path d="M872 257 L880 272 M873.5 256 L881 268" stroke="#3db0e8" stroke-width="1.1"/>
<rect x="881.3" y="316.3" width="90" height="130" fill="#ffffff"/>
<rect x="921.5" y="321.4" width="3.2" height="3.2" fill="#211b5e"/>
<text x="926.9" y="325.1" font-size="5.8" text-anchor="start" fill="#383838" stroke="#383838" stroke-width="0.2">CNS - Platform Wells</text>
<rect x="921.5" y="332.7" width="3.2" height="3.2" fill="#c2c2ca"/>
<text x="926.9" y="336.40000000000003" font-size="5.8" text-anchor="start" fill="#383838" stroke="#383838" stroke-width="0.2">SNS and Irish Sea</text>
<rect x="921.5" y="344.29999999999995" width="3.2" height="3.2" fill="#2160b2"/>
<text x="926.9" y="348.0" font-size="5.8" text-anchor="start" fill="#383838" stroke="#383838" stroke-width="0.2">Norway - Platform</text>
<rect x="921.5" y="356.09999999999997" width="3.2" height="3.2" fill="#bba2da"/>
<text x="926.9" y="359.8" font-size="5.8" text-anchor="start" fill="#383838" stroke="#383838" stroke-width="0.2">Denmark - Subsea</text>
<text x="913.8" y="369.4" font-size="8" text-anchor="end" fill="#404040" textLength="11.8" lengthAdjust="spacingAndGlyphs" stroke="#404040" stroke-width="0.2">500</text>
<path d="M918.4 366.5 H920" stroke="#a0a0a0" stroke-width="0.7"/>
<text x="913.8" y="384.0" font-size="8" text-anchor="end" fill="#404040" textLength="11.8" lengthAdjust="spacingAndGlyphs" stroke="#404040" stroke-width="0.2">450</text>
<path d="M918.4 381.1 H920" stroke="#a0a0a0" stroke-width="0.7"/>
<text x="913.8" y="398.59999999999997" font-size="8" text-anchor="end" fill="#404040" textLength="11.8" lengthAdjust="spacingAndGlyphs" stroke="#404040" stroke-width="0.2">400</text>
<path d="M918.4 395.7 H920" stroke="#a0a0a0" stroke-width="0.7"/>
<text x="913.8" y="413.2" font-size="8" text-anchor="end" fill="#404040" textLength="11.8" lengthAdjust="spacingAndGlyphs" stroke="#404040" stroke-width="0.2">350</text>
<path d="M918.4 410.3 H920" stroke="#a0a0a0" stroke-width="0.7"/>
<text x="913.8" y="427.79999999999995" font-size="8" text-anchor="end" fill="#404040" textLength="11.8" lengthAdjust="spacingAndGlyphs" stroke="#404040" stroke-width="0.2">300</text>
<path d="M918.4 424.9 H920" stroke="#a0a0a0" stroke-width="0.7"/>
<text x="913.8" y="442.4" font-size="8" text-anchor="end" fill="#404040" textLength="11.8" lengthAdjust="spacingAndGlyphs" stroke="#404040" stroke-width="0.2">250</text>
<path d="M918.4 439.5 H920" stroke="#a0a0a0" stroke-width="0.7"/>
<path d="M920 365.8 V445" stroke="#a0a0a0" stroke-width="0.7"/>
<text x="0" y="0" font-size="8.8" fill="#404040" transform="translate(894.4,467) rotate(-90)" textLength="53" lengthAdjust="spacingAndGlyphs">Number of Wells</text>
</svg>
</body></html>
